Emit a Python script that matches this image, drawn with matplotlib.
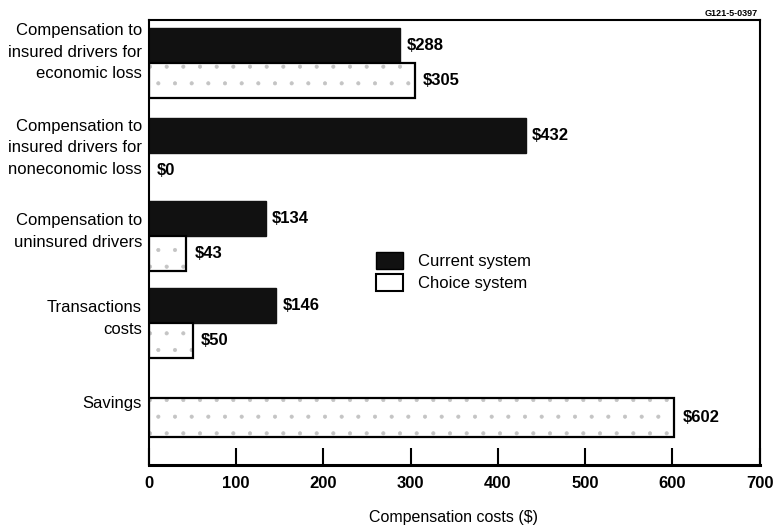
import matplotlib.pyplot as plt
from matplotlib.patches import Patch

plt.rcParams['font.family'] = ['Liberation Sans', 'DejaVu Sans']
plt.rcParams['hatch.linewidth'] = 0.5

categories = [
    "Compensation to\ninsured drivers for\neconomic loss",
    "Compensation to\ninsured drivers for\nnoneconomic loss",
    "Compensation to\nuninsured drivers",
    "Transactions\ncosts",
    "Savings",
]
current = [288, 432, 134, 146, None]
choice = [305, 0, 43, 50, 602]
series_names = ["Current system", "Choice system"]
xticks = [0, 100, 200, 300, 400, 500, 600, 700]

# layout (y in group units, inverted axis)
centers = [0.49, 1.53, 2.48, 3.48]
label_y = [0.37, 1.47, 2.43, 3.43, 4.41]
savings_y = 4.57
bar_h = 0.4

fig = plt.figure(figsize=(7.84, 5.28), dpi=100)
ax = fig.add_axes([0.190, 0.119, 0.779, 0.843])


def choice_bar(y, w, h):
    ax.barh(y, w, height=h, color='white', edgecolor='#c4c4c4', hatch='.', linewidth=0)
    ax.barh(y, w, height=h, color='none', edgecolor='black', linewidth=1.6)


for i, c in enumerate(centers):
    ax.barh(c - bar_h / 2, current[i], height=bar_h, color='#111111', edgecolor='#111111')
    ax.text(current[i] + 7, c - bar_h / 2, f"${current[i]}", va='center', ha='left',
            fontsize=12, fontweight='bold')
    if choice[i] > 0:
        choice_bar(c + bar_h / 2, choice[i], bar_h)
    ax.text(choice[i] + 9, c + bar_h / 2, f"${choice[i]}", va='center', ha='left',
            fontsize=12, fontweight='bold')

choice_bar(savings_y, choice[4], 0.45)
ax.text(choice[4] + 10, savings_y, f"${choice[4]}", va='center', ha='left',
        fontsize=12, fontweight='bold')

for lab, y in zip(categories, label_y):
    ax.text(-8, y, lab, ha='right', va='center', fontsize=12, linespacing=1.55)

ax.set_xlim(0, 700)
ax.set_ylim(5.115, 0)
ax.set_yticks([])
ax.set_xticks(xticks)
ax.set_xticklabels([str(t) for t in xticks], fontsize=12, fontweight='bold')
ax.tick_params(axis='x', direction='in', length=12, width=1.5, pad=8)
for s in ax.spines.values():
    s.set_linewidth(1.5)
ax.spines['bottom'].set_linewidth(2.2)

fig.text(0.579, 0.019, "Compensation costs ($)", ha='center', va='center', fontsize=11.5)

handles = [Patch(facecolor='#111111', edgecolor='black', label=series_names[0]),
           Patch(facecolor='white', edgecolor='black', linewidth=1.5, label=series_names[1])]
ax.legend(handles=handles, loc='center left', bbox_to_anchor=(0.347, 0.435), frameon=False,
          fontsize=12, handlelength=1.6, handleheight=1.2, handletextpad=0.9, labelspacing=0.3)

fig.text(0.967, 0.975, "G121-5-0397", ha='right', va='center', fontsize=6.5, fontweight='bold')

fig.savefig("out.png", dpi=100)
